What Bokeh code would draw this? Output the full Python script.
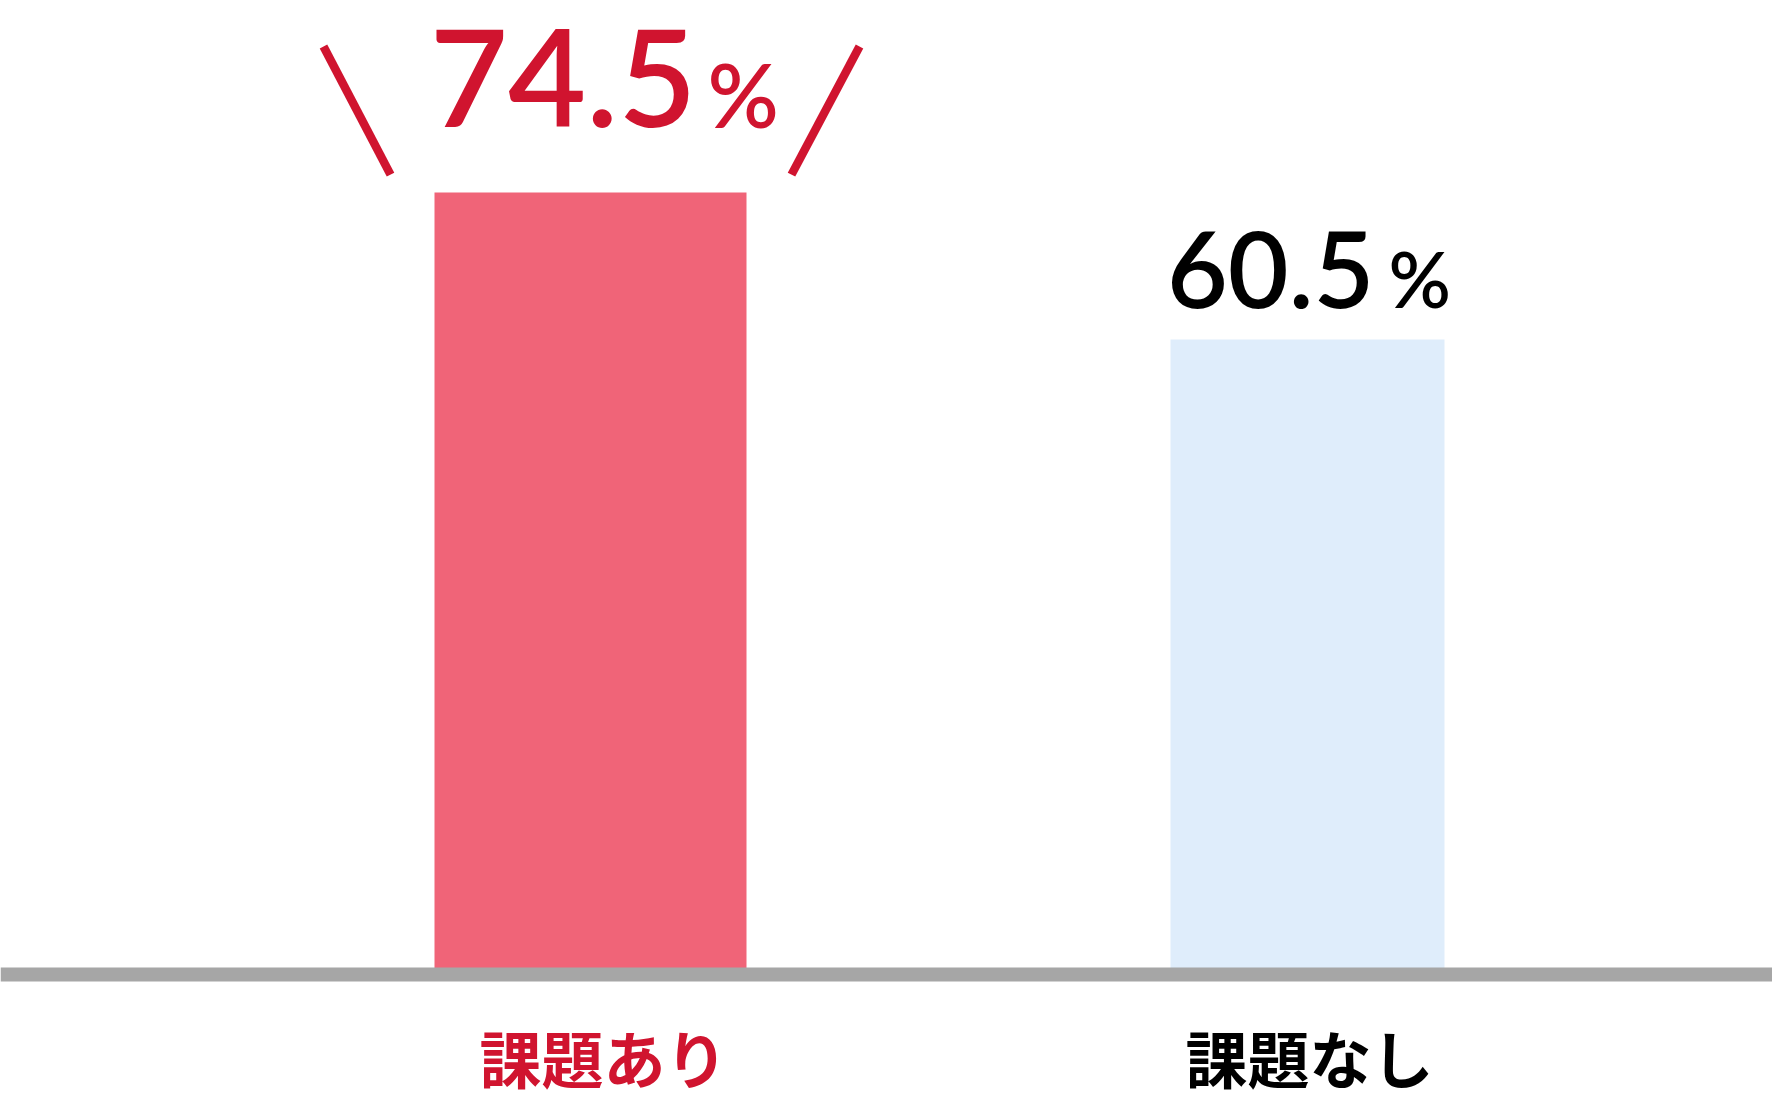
from bokeh.plotting import figure
from bokeh.models import ColumnDataSource, Range1d, Span
from bokeh.core.properties import value
from bokeh.embed import file_html
from bokeh.resources import INLINE

# ---- data ----
categories = ["課題あり", "課題なし"]
values = [74.5, 60.5]
value_labels = ["74.5", "60.5"]
highlight = [True, False]

# ---- styles ----
bar_colors = ["#F06478", "#DFEDFB"]
text_colors = ["#D0142F", "#000000"]
bar_widths_px = [312, 274]
num_sizes = ["135px", "105px"]
pct_sizes = ["88px", "77px"]
NUM_FONT = "Lato Semibold"

W, H = 1772, 1099
PX_PER_X = 717.0          # pixels between category centres
PX_PER_Y = 10.497         # pixels per percentage point
X0_PX = 590.0             # first category centre (px from left)
BASE_PX = 974.0           # baseline (px from top)

x_start = -X0_PX / PX_PER_X
x_end = x_start + W / PX_PER_X
y_end = BASE_PX / PX_PER_Y
y_start = -(H - BASE_PX) / PX_PER_Y

xs = list(range(len(categories)))

src = ColumnDataSource(dict(
    x=xs,
    value=values,
    cat=categories,
    num=value_labels,
    pct=["%"] * len(values),
    bar_color=bar_colors,
    text_color=text_colors,
    w=[b / PX_PER_X for b in bar_widths_px],
    nsize=num_sizes,
    psize=pct_sizes,
    nx=[106, 67],
    pxo=[117, 81],
    ny=[-114, -70],
    py=[-98, -61],
    lx=[13, 2],
))

p = figure(width=W, height=H, x_range=Range1d(x_start, x_end),
           y_range=Range1d(y_start, y_end), output_backend="svg",
           toolbar_location=None, min_border=0)
p.axis.visible = False
p.grid.visible = False
p.outline_line_color = None
p.background_fill_color = "white"
p.border_fill_color = "white"

p.vbar(x="x", top="value", bottom=0, width="w", fill_color="bar_color",
       line_color=None, source=src)

baseline = Span(location=0, dimension="width", line_color="#A6A6A6",
                line_width=14)
p.add_layout(baseline)

# value labels: number + smaller percent sign
p.text(x="x", y="value", text="num", x_offset="nx", y_offset="ny",
       text_font_size="nsize", text_color="text_color",
       text_font=value(NUM_FONT), text_align="right",
       text_baseline="alphabetic", source=src)
p.text(x="x", y="value", text="pct", x_offset="pxo", y_offset="py",
       text_font_size="psize", text_color="text_color",
       text_font=value(NUM_FONT), text_align="left",
       text_baseline="alphabetic", source=src)

# category labels below the baseline
p.text(x="x", y=0, text="cat", x_offset="lx", y_offset=82,
       text_font_size="62px", text_color="text_color",
       text_font=value("Noto Sans CJK JP"), text_font_style="bold",
       text_align="center", text_baseline="middle", source=src)

# emphasis slashes around the highlighted value
sx0, sy0, sx1, sy1 = [], [], [], []
for xi, v, h in zip(xs, values, highlight):
    if h:
        # left "\"
        sx0.append(xi - 267 / PX_PER_X); sy0.append(v + 13.9)
        sx1.append(xi - 200 / PX_PER_X); sy1.append(v + 1.7)
        # right "/"
        sx0.append(xi + 269 / PX_PER_X); sy0.append(v + 13.9)
        sx1.append(xi + 201 / PX_PER_X); sy1.append(v + 1.7)
seg = ColumnDataSource(dict(x0=sx0, y0=sy0, x1=sx1, y1=sy1))
p.segment(x0="x0", y0="y0", x1="x1", y1="y1", line_color="#D0142F",
          line_width=8.5, source=seg)

open("out.html", "w").write(file_html(p, INLINE))
